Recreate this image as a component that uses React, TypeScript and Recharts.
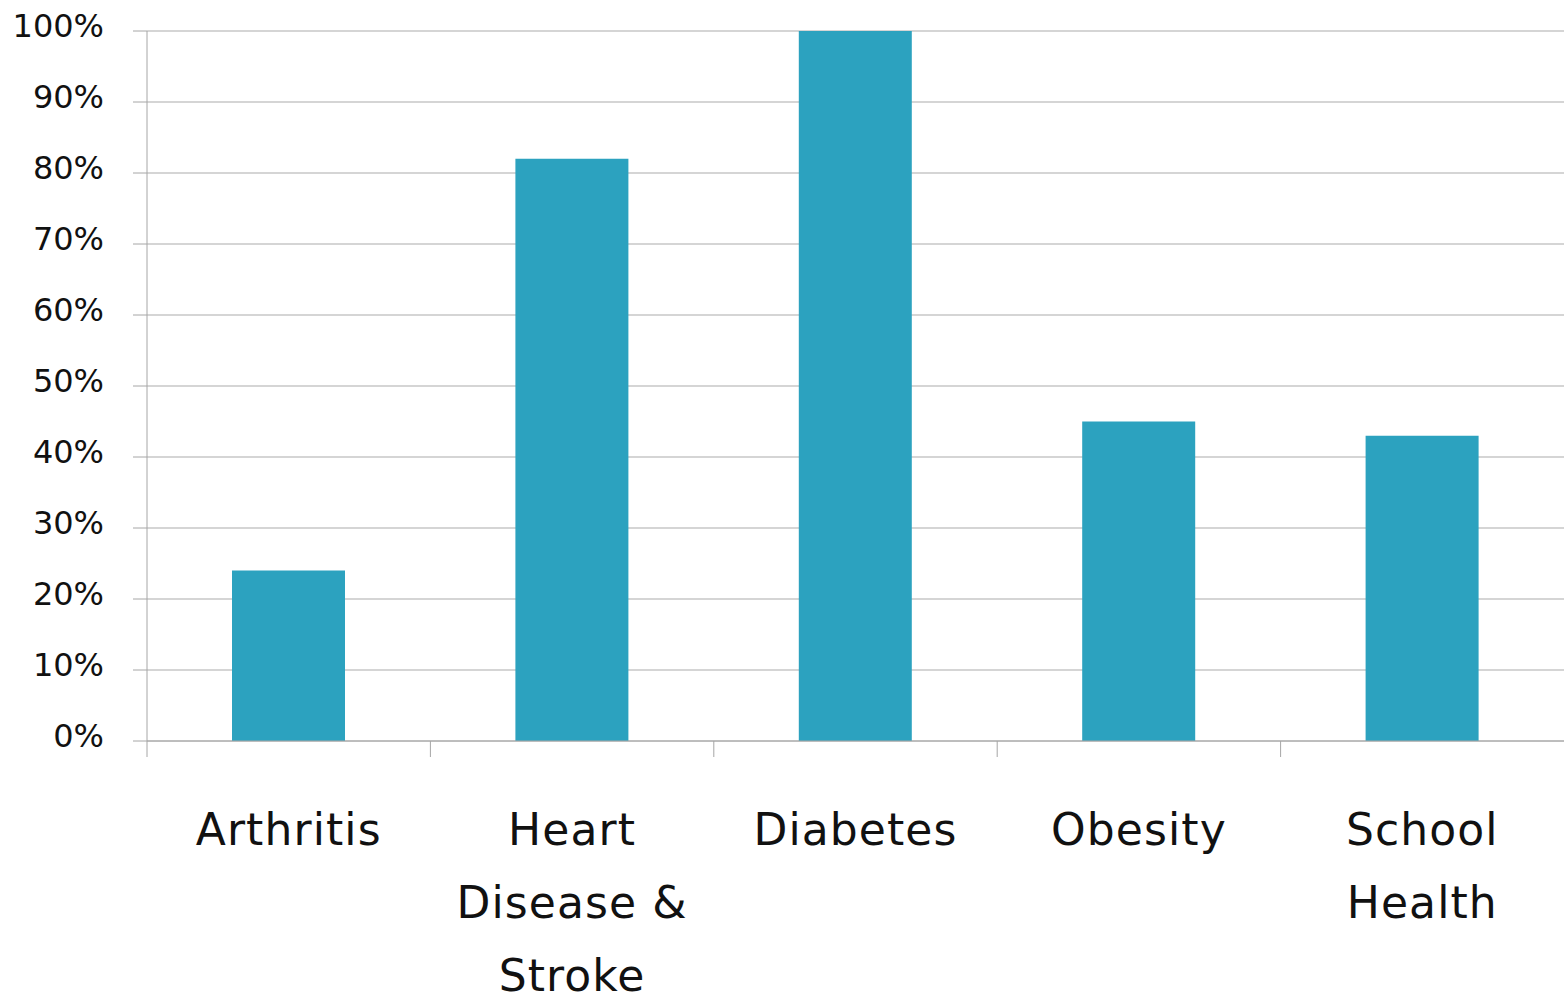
import { BarChart, Bar, XAxis, YAxis, CartesianGrid } from 'recharts';

const categories = ['Arthritis', 'Heart Disease & Stroke', 'Diabetes', 'Obesity', 'School Health'];
const tickLines = [['Arthritis'], ['Heart', 'Disease &', 'Stroke'], ['Diabetes'], ['Obesity'], ['School', 'Health']];
const shares = [24, 82, 100, 45, 43];
const yTicks = [0, 10, 20, 30, 40, 50, 60, 70, 80, 90, 100];

const data = categories.map((name, i) => ({ name, value: shares[i] }));

const FONT = '"DejaVu Sans", sans-serif';
const CHART_W = 1564;
const Y_AXIS_W = 147;
const BAND = (CHART_W - Y_AXIS_W) / categories.length;
const AXIS_GRAY = '#a6a6a6';

// category label, plus the tick mark at the left edge of the band
function CategoryTick({ x, y, index }: any) {
  const lines = tickLines[index] || [];
  const left = x - BAND / 2;
  return (
    <g>
      <line x1={left} x2={left} y1={741} y2={757} stroke={AXIS_GRAY} />
      <text x={x} y={y} textAnchor="middle" fontFamily={FONT} fontSize={44} letterSpacing={1.1} fill="#111">
        {lines.map((l, i) => (
          <tspan key={i} x={x} dy={i === 0 ? 86 : 73}>{l}</tspan>
        ))}
      </text>
    </g>
  );
}

function PercentTick({ x, y, payload }: any) {
  return (
    <text x={x} y={y} dy={6} textAnchor="end" fontFamily={FONT} fontSize={32} fill="#111">
      {payload.value}%
    </text>
  );
}

export default function App() {
  return (
    <div style={{ position: 'fixed', left: 0, top: 0, background: '#fff' }}>
      <BarChart
        width={CHART_W}
        height={999}
        data={data}
        margin={{ top: 31, right: 0, left: 0, bottom: 0 }}
      >
        <CartesianGrid vertical={false} stroke="#ababab" strokeWidth={1} />
        <XAxis
          dataKey="name"
          height={258}
          interval={0}
          axisLine={{ stroke: AXIS_GRAY }}
          tickLine={false}
          tickSize={16}
          tick={<CategoryTick />}
        />
        <YAxis
          width={Y_AXIS_W}
          domain={[0, 100]}
          ticks={yTicks}
          interval={0}
          axisLine={{ stroke: AXIS_GRAY }}
          tickLine={{ stroke: AXIS_GRAY }}
          tickSize={14}
          tickMargin={29}
          tick={<PercentTick />}
        />
        <Bar dataKey="value" fill="#2ca2bf" barSize={113} isAnimationActive={false} />
      </BarChart>
    </div>
  );
}
